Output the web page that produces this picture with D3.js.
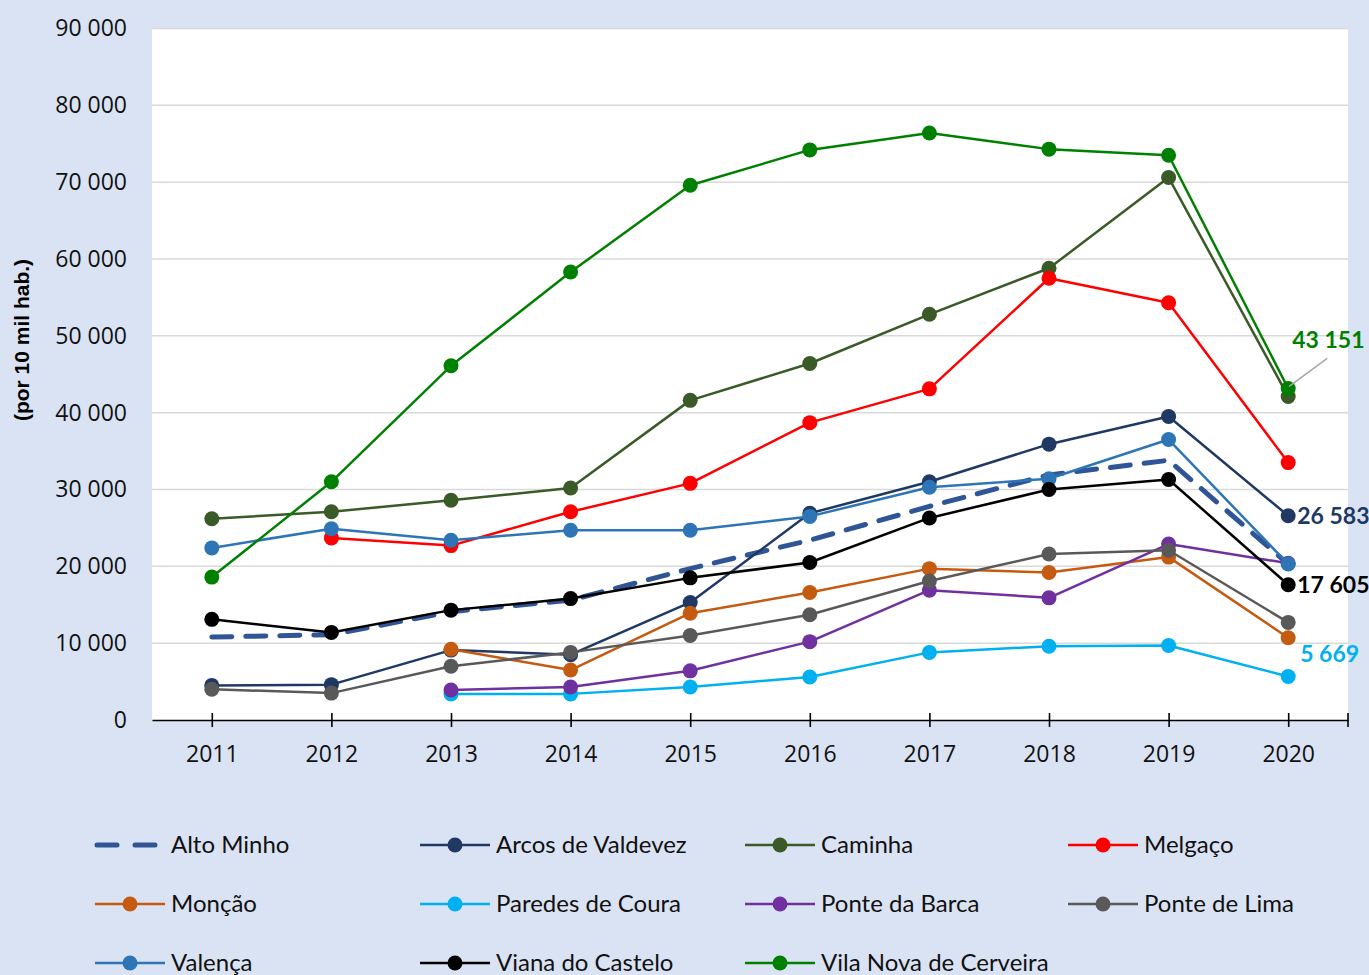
<!DOCTYPE html>
<html>
<head>
<meta charset="utf-8">
<script src="https://cdn.jsdelivr.net/npm/d3@7"></script>
<style>
  html, body { margin: 0; padding: 0; background: #DAE3F3; }
  svg { display: block; }
</style>
</head>
<body>
<script>
// Categories (years)
const years = ["2011", "2012", "2013", "2014", "2015", "2016", "2017", "2018", "2019", "2020"];

// Series values (por 10 mil hab.)
const altoMinho   = [10800, 11100, 14100, 15600, 19700, 23400, 27800, 31900, 33800, 20300];
const arcos       = [4500, 4600, 9100, 8500, 15300, 26900, 31000, 35900, 39500, 26583];
const caminha     = [26200, 27100, 28600, 30200, 41600, 46400, 52800, 58800, 70600, 42100];
const melgaco     = [null, 23700, 22700, 27100, 30800, 38700, 43100, 57500, 54300, 33500];
const moncao      = [null, null, 9200, 6500, 13900, 16600, 19700, 19200, 21200, 10700];
const paredes     = [null, null, 3400, 3400, 4300, 5600, 8800, 9600, 9700, 5669];
const ponteBarca  = [null, null, 3900, 4300, 6400, 10200, 16900, 15900, 22900, 20400];
const ponteLima   = [4000, 3500, 7000, 8800, 11000, 13700, 18100, 21600, 22100, 12700];
const valenca     = [22400, 24900, 23400, 24700, 24700, 26500, 30300, 31400, 36500, 20300];
const viana       = [13100, 11400, 14300, 15800, 18500, 20500, 26300, 30000, 31300, 17605];
const vilaNova    = [18600, 31000, 46100, 58300, 69600, 74200, 76400, 74300, 73500, 43151];

// Y axis tick values
const yTicks = [0, 10000, 20000, 30000, 40000, 50000, 60000, 70000, 80000, 90000];

// Series table (drawing order, legend order)
const series = [
  { name: "Alto Minho",             values: altoMinho,  color: "#2F5597", dashed: true },
  { name: "Arcos de Valdevez",      values: arcos,      color: "#203864" },
  { name: "Caminha",                values: caminha,    color: "#3A5A27" },
  { name: "Melgaço",                values: melgaco,    color: "#FF0000" },
  { name: "Monção",                 values: moncao,     color: "#C55A11" },
  { name: "Paredes de Coura",       values: paredes,    color: "#00B0F0" },
  { name: "Ponte da Barca",         values: ponteBarca, color: "#7030A0" },
  { name: "Ponte de Lima",          values: ponteLima,  color: "#595959" },
  { name: "Valença",                values: valenca,    color: "#2E75B6" },
  { name: "Viana do Castelo",       values: viana,      color: "#000000" },
  { name: "Vila Nova de Cerveira",  values: vilaNova,   color: "#008000" }
];

// Last-year value labels: series name, text offsets from the point
const endLabels = [
  { name: "Vila Nova de Cerveira", dx: 4,  dy: -49, leader: true },
  { name: "Arcos de Valdevez",     dx: 9,  dy: 0 },
  { name: "Viana do Castelo",      dx: 9,  dy: 0 },
  { name: "Paredes de Coura",      dx: 12, dy: -22 }
];

const W = 1369, H = 975;
const plot = { left: 152, right: 1348, top: 28.5, bottom: 720 };

const svg = d3.select("body").append("svg")
  .attr("width", W).attr("height", H);

svg.append("rect").attr("width", W).attr("height", H).attr("fill", "#DAE3F3");

const x = d3.scalePoint().domain(years).range([plot.left, plot.right]).padding(0.5);
const y = d3.scaleLinear().domain([0, 90000]).range([plot.bottom, plot.top]);

const fmt = d3.formatLocale({ decimal: ",", thousands: " ", grouping: [3], currency: ["", ""] }).format(",d");

// Plot area
svg.append("rect")
  .attr("x", plot.left).attr("y", plot.top)
  .attr("width", plot.right - plot.left).attr("height", plot.bottom - plot.top)
  .attr("fill", "#FFFFFF");

// Gridlines
svg.append("g").selectAll("line")
  .data(yTicks.filter(d => d > 0))
  .join("line")
  .attr("x1", plot.left).attr("x2", plot.right)
  .attr("y1", d => y(d)).attr("y2", d => y(d))
  .attr("stroke", "#D9D9D9").attr("stroke-width", 1.5);

// Y axis labels
const yAxis = svg.append("g")
  .attr("transform", `translate(${plot.left},0)`)
  .call(d3.axisLeft(y).tickValues(yTicks).tickFormat(fmt).tickSize(0).tickPadding(25));
yAxis.select(".domain").remove();
yAxis.selectAll("text")
  .attr("font-family", "'Open Sans', sans-serif")
  .attr("font-size", 23)
  .attr("fill", "#111");

// X axis
const xAxis = svg.append("g")
  .attr("transform", `translate(0,${plot.bottom})`)
  .call(d3.axisBottom(x).tickSize(7).tickSizeOuter(0).tickPadding(19));
xAxis.select(".domain").attr("stroke", "#000").attr("stroke-width", 1.6);
xAxis.selectAll(".tick line").attr("y1", -7).attr("stroke", "#000").attr("stroke-width", 1.6);
xAxis.append("line")
  .attr("x1", x.range()[1]).attr("x2", x.range()[1])
  .attr("y1", -7).attr("y2", 7)
  .attr("stroke", "#000").attr("stroke-width", 1.6);
xAxis.selectAll("text")
  .attr("font-family", "'Open Sans', sans-serif")
  .attr("font-size", 23)
  .attr("fill", "#111");

// Y axis title
svg.append("text")
  .attr("transform", `translate(29,340) rotate(-90)`)
  .attr("text-anchor", "middle")
  .attr("font-family", "'Liberation Sans Narrow', 'Arial Narrow', sans-serif")
  .attr("font-weight", "bold")
  .attr("font-size", 21)
  .attr("fill", "#000")
  .text("(por 10 mil hab.)");

// Lines and markers
const line = d3.line()
  .defined(d => d.v != null)
  .x(d => x(d.year))
  .y(d => y(d.v));

const seriesG = svg.append("g").selectAll("g")
  .data(series)
  .join("g");

seriesG.append("path")
  .attr("d", s => line(years.map((yr, i) => ({ year: yr, v: s.values[i] }))))
  .attr("fill", "none")
  .attr("stroke", s => s.color)
  .attr("stroke-width", s => s.dashed ? 5 : 2.5)
  .attr("stroke-dasharray", s => s.dashed ? "20 14" : null)
  .attr("stroke-linecap", s => s.dashed ? "round" : "butt")
  .attr("stroke-linejoin", "round");

seriesG.filter(s => !s.dashed).selectAll("circle")
  .data(s => years.map((yr, i) => ({ year: yr, v: s.values[i], color: s.color })).filter(d => d.v != null))
  .join("circle")
  .attr("cx", d => x(d.year))
  .attr("cy", d => y(d.v))
  .attr("r", 7.5)
  .attr("fill", d => d.color);

// Value labels at the last year
const lastYear = years[years.length - 1];
endLabels.forEach(l => {
  const s = series.find(d => d.name === l.name);
  const v = s.values[s.values.length - 1];
  const px = x(lastYear), py = y(v);
  if (l.leader) {
    svg.append("line")
      .attr("x1", px + 1).attr("y1", py - 2)
      .attr("x2", px + 39).attr("y2", py - 30)
      .attr("stroke", "#A6A6A6").attr("stroke-width", 1.5);
  }
  svg.append("text")
    .attr("x", px + l.dx).attr("y", py + l.dy)
    .attr("dy", "0.35em")
    .attr("font-family", "Lato, sans-serif")
    .attr("font-weight", "bold")
    .attr("font-size", 23)
    .attr("fill", s.color)
    .text(fmt(v));
});

// Legend
const legendCols = [95, 420, 745, 1068];
const legendRows = [845, 904, 963];
const legend = svg.append("g").selectAll("g")
  .data(series)
  .join("g")
  .attr("transform", (d, i) => `translate(${legendCols[i % 4]},${legendRows[Math.floor(i / 4)]})`);

legend.each(function (s) {
  const g = d3.select(this);
  if (s.dashed) {
    g.append("line")
      .attr("x1", 2).attr("x2", 68).attr("y1", 0).attr("y2", 0)
      .attr("stroke", s.color).attr("stroke-width", 5)
      .attr("stroke-dasharray", "20 18")
      .attr("stroke-linecap", "round");
  } else {
    g.append("line")
      .attr("x1", 0).attr("x2", 70).attr("y1", 0).attr("y2", 0)
      .attr("stroke", s.color).attr("stroke-width", 2.5);
    g.append("circle").attr("cx", 35).attr("cy", 0).attr("r", 7.5).attr("fill", s.color);
  }
  g.append("text")
    .attr("x", 76).attr("y", 0).attr("dy", "0.35em")
    .attr("font-family", "Lato, sans-serif")
    .attr("font-size", 24)
    .attr("fill", "#111")
    .text(s.name);
});
</script>
</body>
</html>
